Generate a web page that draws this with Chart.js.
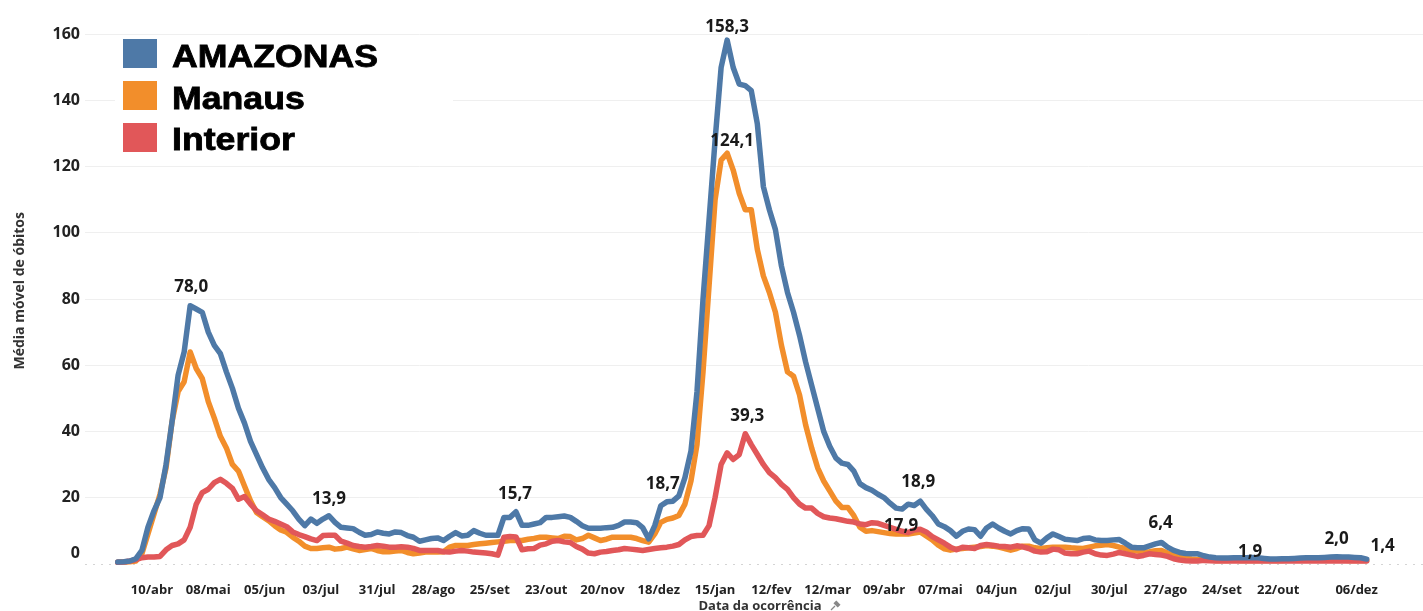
<!DOCTYPE html>
<html><head><meta charset="utf-8">
<script src="https://cdn.jsdelivr.net/npm/chart.js@4.4.1/dist/chart.umd.min.js"></script>
<style>html,body{margin:0;padding:0;background:#fff;overflow:hidden}canvas{display:block}</style>
</head><body>
<canvas id="c" width="1423" height="611"></canvas>
<script>
// Days counted from 24/03/2020, one value every 3 days
const STEP_DAYS = 3;
const seriesNames = ['AMAZONAS', 'Manaus', 'Interior'];

const amazonas = [
  0.5,0.6,0.8,1.5,4,11,16,20,30,43,
  57,64,78,77,76,70,66,63.5,58,53,
  47,42.5,37,33,29,25.5,23,20,18,16,
  13.5,11.5,13.5,12.2,13.5,14.5,12.5,11,10.8,10.6,
  9.5,8.6,8.8,9.6,9.2,9,9.6,9.4,8.5,8,
  6.8,7.2,7.6,7.8,7,8.3,9.4,8.4,8.6,10,
  9.2,8.6,8.6,8.6,14,14,15.7,11.6,11.6,12,
  12.4,14,14,14.2,14.4,14,12.8,11.5,10.7,10.7,
  10.7,10.9,11,11.6,12.6,12.6,12.4,10.9,7.5,11.5,
  17.5,18.7,18.9,20.5,26,34,52,80,104,128,
  150,158.3,150,145,144.5,143,133,114,107,101,
  90,82,76,69,61,54,47,40,35.5,32,
  30.4,30,28,24.2,23,22.2,21,20,18.3,16.8,
  16.5,18,17.6,18.9,16.5,14.5,12,11.2,10,8.3,
  9.8,10.5,10.3,8.3,10.8,12,10.8,9.8,9,10,
  10.6,10.5,7.2,6.2,7.8,9,8.2,7.4,7.2,7,
  7.6,7.8,7.2,7,7,7.2,7.3,6.2,5,4.8,
  4.8,5.4,6,6.4,5,4,3.4,3.1,3,3,
  2.4,2,1.8,1.7,1.7,1.8,1.8,1.8,1.9,1.8,
  1.6,1.4,1.4,1.5,1.5,1.6,1.7,1.8,1.8,1.8,
  1.9,2.0,2.1,2.0,2.0,1.9,1.8,1.4
];

const manaus = [
  0.4,0.5,0.6,0.8,3,9,15,21,29,43,
  52,55,64,59,56,49,44,38.5,35,30,
  28,23.5,19,15.5,14.2,13,11.5,10.2,9.5,8,
  6.8,5.3,4.6,4.6,4.8,5,4.4,4.6,5,4.5,
  4,4.3,4.6,4,3.6,3.6,3.8,4,3.4,3,
  3.2,3.5,3.5,3.5,3.6,5,5.5,5.5,5.5,5.8,
  6,6.2,6.4,6.6,6.8,7,7,7,7.4,7.6,
  8,8,7.8,7.6,8.3,8.2,7.2,7.6,8.6,7.8,
  7,7.4,8,8,8,8,7.6,7,6.5,9,
  12.5,13.4,13.8,14.6,18,25,36,58,84,110,
  122,124.1,119,112,107,107,95,87,82,76,
  66,58,56.7,51,42,35,29,25,22,19,
  17,17,14.5,11,9.8,10,9.7,9.4,9.1,9,
  9,9,9.3,9.6,8.4,7.2,5.6,4.5,4.1,4.4,
  4.6,4.8,5,5.2,5.5,5.3,5,4.6,4.1,4.6,
  5.3,5.3,4.8,4.6,4.8,5,5,5,4.8,4.7,
  4.6,5,5.4,5.6,5.8,5.5,5,4.6,4,3.8,
  3.5,3.6,3.9,4,3.2,2.5,2,1.6,1.4,1.3,
  1.2,1.1,1,1,1,1.1,1,1,1,1,
  1,1,1,1,1.1,1.1,1.1,1.1,1.2,1.2,
  1.2,1.2,1.1,1.1,1,1,1,1
];

const interior = [
  0.4,0.5,0.8,1.2,1.8,2,2,2.2,4.2,5.5,
  6,7.2,11,18,21.5,22.5,24.5,25.5,24.3,22.8,
  19.5,20.3,18,16,14.8,13.5,12.8,12,11.2,9.6,
  8.8,8.2,7.5,7,8.5,8.6,8.6,6.8,6.2,5.5,
  5.2,5,5.2,5.5,5.3,5,5,5.1,5,4.6,
  4,4,4,4,3.6,3.5,3.8,4,3.8,3.5,
  3.4,3.2,3,2.6,8,8.2,8.1,4.2,4.5,4.6,
  5.6,6,6.8,7,6.6,6.4,5.2,4.4,3.2,3,
  3.5,3.7,4,4.2,4.6,4.4,4.2,4,4.3,4.6,
  4.8,5,5.3,5.8,7.2,8.2,8.5,8.6,11.5,20,
  30,33.5,31.5,33,39.3,36,33,30,27.5,26,
  24,22.5,20,18,16.8,16.8,15.2,14.2,13.8,13.6,
  13.2,12.8,12.6,12,11.8,12.4,12.2,11.6,11,10.4,
  9.8,9.4,10.2,10.4,9.6,8.2,7.2,6.2,5,4.2,
  5,4.8,4.6,5.5,5.8,5.6,5.3,5.2,5,5.4,
  5.1,4.6,3.8,3.5,3.6,4.4,4.2,3.2,3,3,
  3.5,3.8,3,2.6,2.5,2.9,3.4,3,2.6,2.2,
  2.5,3,2.8,2.6,2.2,1.5,1.1,0.9,0.8,0.8,
  1,0.9,0.8,0.8,0.8,0.8,0.8,0.8,0.8,0.8,
  0.8,0.8,0.8,0.8,0.8,0.8,0.8,0.8,0.8,0.8,
  0.8,0.8,0.8,0.8,0.8,0.8,0.8,0.8
];

const days = amazonas.map((_, i) => i * STEP_DAYS);

const tickDays = [17,45,73,101,129,157,185,213,241,269,297,325,353,381,409,437,465,493,521,549,577,616];
const tickLabels = ['10/abr','08/mai','05/jun','03/jul','31/jul','28/ago','25/set','23/out','20/nov','18/dez','15/jan','12/fev','12/mar','09/abr','07/mai','04/jun','02/jul','30/jul','27/ago','24/set','22/out','06/dez'];
const yTicks = [0,20,40,60,80,100,120,140,160];

// value labels: series index, point index, text
const valueLabels = [
  [0,12,'78,0'],[0,35,'13,9'],[0,66,'15,7'],[0,91,'18,7'],[0,101,'158,3'],
  [1,101,'124,1'],[2,104,'39,3'],[0,133,'18,9'],[1,130,'17,9'],[0,173,'6,4'],
  [0,188,'1,9'],[0,202,'2,0'],[0,207,'1,4']
];
// offsets for each value label (style)
const labelOffsets = [
  [1,-18.5],[0,-17],[-1,-18],[-4,-18],[0,-13],
  [5,-12],[2,-18],[-2,-19],[-1,-8],[-1,-19],
  [-2,-5],[0,-18],[16,-12.5]
];

const colors = ['#4e79a7', '#f28e2b', '#e15759'];
const FONT = "'Open Sans', 'DejaVu Sans', sans-serif";

const deco = {
  id: 'deco',
  beforeDatasetsDraw(chart) {
    const {ctx, chartArea: a, scales: {y}} = chart;
    ctx.save();
    const y0 = Math.round(y.getPixelForValue(0)) + 0.5;
    ctx.strokeStyle = '#d4d4d4';
    ctx.lineWidth = 1.2;
    ctx.setLineDash([2, 6]);
    ctx.beginPath(); ctx.moveTo(a.left, y0); ctx.lineTo(a.right, y0); ctx.stroke();
    ctx.setLineDash([]);
    // legend box
    ctx.fillStyle = '#fff';
    ctx.fillRect(115, 36, 338, 124);
    const tops = [39, 81, 123];
    const bases = [67, 108.5, 150];
    ctx.font = "bold 31px 'Liberation Sans', Arial, sans-serif";
    ctx.textBaseline = 'alphabetic';
    ctx.textAlign = 'left';
    for (let i = 0; i < 3; i++) {
      ctx.fillStyle = colors[i];
      ctx.fillRect(123, tops[i], 34, 29);
      ctx.save();
      ctx.translate(172, bases[i]);
      ctx.scale(1.15, 1);
      ctx.fillStyle = '#000';
      ctx.strokeStyle = '#000';
      ctx.lineWidth = 0.8;
      ctx.fillText(seriesNames[i], 0, 0);
      ctx.strokeText(seriesNames[i], 0, 0);
      ctx.restore();
    }
    ctx.restore();
  },
  afterDatasetsDraw(chart) {
    const {ctx} = chart;
    ctx.save();
    ctx.font = 'bold 17px ' + FONT;
    ctx.fillStyle = '#1a1a1a';
    ctx.textAlign = 'center';
    ctx.textBaseline = 'middle';
    valueLabels.forEach(([s, i, t], k) => {
      const pt = chart.getDatasetMeta(s).data[i];
      ctx.fillText(t, pt.x + labelOffsets[k][0], pt.y + labelOffsets[k][1]);
    });
    ctx.restore();
  },
  afterDraw(chart) {
    const {ctx, scales: {y}} = chart;
    ctx.save();
    // zero tick label sits slightly above the baseline
    ctx.font = 'bold 16px ' + FONT;
    ctx.fillStyle = '#222';
    ctx.textAlign = 'right';
    ctx.textBaseline = 'middle';
    ctx.fillText('0', 80, y.getPixelForValue(0) - 10);
    // x axis title (cut at bottom edge)
    ctx.font = 'bold 13px ' + FONT;
    ctx.fillStyle = '#333';
    ctx.textAlign = 'center';
    ctx.textBaseline = 'alphabetic';
    ctx.fillText('Data da ocorrência', 760, 610);
    // pin icon
    ctx.strokeStyle = '#888'; ctx.fillStyle = '#888'; ctx.lineWidth = 1.3;
    ctx.beginPath(); ctx.moveTo(831, 610); ctx.lineTo(835, 606); ctx.stroke();
    ctx.save(); ctx.translate(837, 604); ctx.rotate(Math.PI / 4);
    ctx.fillRect(-3, -2, 6, 4); ctx.restore();
    ctx.restore();
  }
};

const makeData = arr => days.map((d, i) => ({x: d, y: arr[i]}));
const series = [amazonas, manaus, interior];
const drawOrder = [1, 3, 2];

new Chart(document.getElementById('c'), {
  type: 'line',
  data: {
    datasets: series.map((arr, i) => ({
      label: seriesNames[i],
      data: makeData(arr),
      borderColor: colors[i],
      backgroundColor: colors[i],
      borderWidth: 5.5,
      pointRadius: 0,
      tension: 0,
      borderJoinStyle: 'round',
      borderCapStyle: 'round',
      order: drawOrder[i]
    }))
  },
  options: {
    responsive: false,
    animation: false,
    devicePixelRatio: 1,
    layout: {padding: {top: 11, left: 0, right: 0, bottom: 0}},
    plugins: {legend: {display: false}, tooltip: {enabled: false}},
    scales: {
      x: {
        type: 'linear',
        min: -16.3,
        max: 649,
        grid: {display: false},
        border: {display: false},
        afterBuildTicks: s => { s.ticks = tickDays.map(v => ({value: v})); },
        afterFit: s => { s.height = 44; },
        ticks: {
          autoSkip: false, maxRotation: 0, minRotation: 0, padding: 7,
          color: '#222', font: {family: FONT, size: 13, weight: 'bold'},
          callback: v => tickLabels[tickDays.indexOf(v)] || ''
        }
      },
      y: {
        min: -1,
        max: 166,
        border: {display: false},
        grid: {
          drawTicks: false,
          color: c => (c.tick && c.tick.value === 0) ? 'rgba(0,0,0,0)' : '#efefef',
          lineWidth: 1
        },
        afterBuildTicks: s => { s.ticks = yTicks.map(v => ({value: v})); },
        afterFit: s => { s.width = 85; },
        ticks: {
          padding: 5, color: '#222', font: {family: FONT, size: 16, weight: 'bold'},
          callback: v => v === 0 ? '' : String(v)
        },
        title: {
          display: true, text: 'Média móvel de óbitos', color: '#333',
          font: {family: FONT, size: 14, weight: 'bold'},
          padding: {top: 12, bottom: 0}
        }
      }
    }
  },
  plugins: [deco]
});
</script>
</body></html>
